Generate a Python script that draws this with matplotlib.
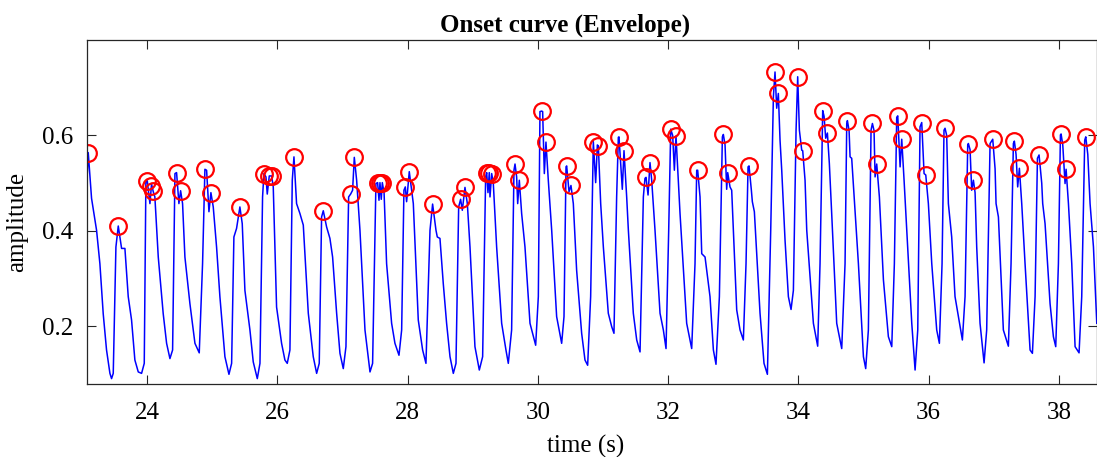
import numpy as np
import matplotlib
matplotlib.use('Agg')
import matplotlib.pyplot as plt

# envelope vertices (time in s, amplitude)
env_time = [23.073, 23.099, 23.150, 23.186, 23.227, 23.278, 23.329, 23.380, 23.432, 23.457,
            23.483, 23.524, 23.560, 23.611, 23.662, 23.713, 23.764, 23.815, 23.867, 23.918,
            23.959, 23.984, 24.005, 24.046, 24.071, 24.097, 24.122, 24.174, 24.250, 24.302,
            24.353, 24.394, 24.430, 24.455, 24.491, 24.517, 24.547, 24.583, 24.660, 24.737,
            24.803, 24.854, 24.890, 24.916, 24.952, 24.982, 25.018, 25.069, 25.120, 25.197,
            25.259, 25.300, 25.335, 25.376, 25.427, 25.463, 25.504, 25.581, 25.632, 25.694,
            25.735, 25.775, 25.796, 25.827, 25.847, 25.878, 25.914, 25.939, 25.990, 26.067,
            26.118, 26.154, 26.195, 26.231, 26.257, 26.297, 26.349, 26.400, 26.477, 26.553,
            26.605, 26.645, 26.681, 26.707, 26.758, 26.809, 26.850, 26.912, 26.963, 27.014,
            27.055, 27.096, 27.127, 27.157, 27.183, 27.219, 27.270, 27.347, 27.424, 27.464,
            27.515, 27.541, 27.562, 27.577, 27.597, 27.613, 27.640, 27.679, 27.756, 27.807,
            27.869, 27.910, 27.945, 27.966, 27.986, 28.027, 28.063, 28.089, 28.165, 28.232,
            28.283, 28.345, 28.385, 28.437, 28.457, 28.498, 28.549, 28.600, 28.652, 28.703,
            28.744, 28.785, 28.815, 28.841, 28.882, 28.918, 28.959, 29.035, 29.102, 29.153,
            29.199, 29.215, 29.235, 29.255, 29.266, 29.292, 29.317, 29.368, 29.445, 29.511,
            29.547, 29.598, 29.634, 29.650, 29.675, 29.691, 29.716, 29.752, 29.803, 29.880,
            29.967, 30.008, 30.033, 30.059, 30.074, 30.100, 30.125, 30.161, 30.213, 30.289,
            30.366, 30.402, 30.433, 30.443, 30.479, 30.509, 30.545, 30.596, 30.673, 30.724,
            30.765, 30.811, 30.852, 30.888, 30.914, 30.929, 30.965, 31.006, 31.082, 31.134,
            31.169, 31.210, 31.236, 31.246, 31.297, 31.323, 31.364, 31.390, 31.466, 31.518,
            31.569, 31.620, 31.645, 31.661, 31.692, 31.722, 31.748, 31.799, 31.876, 31.927,
            31.968, 32.009, 32.040, 32.070, 32.096, 32.121, 32.157, 32.183, 32.285, 32.362,
            32.413, 32.439, 32.454, 32.490, 32.516, 32.567, 32.643, 32.695, 32.735, 32.787,
            32.833, 32.848, 32.874, 32.899, 32.915, 32.950, 32.976, 33.053, 33.104, 33.155,
            33.196, 33.227, 33.242, 33.278, 33.293, 33.324, 33.411, 33.472, 33.524, 33.575,
            33.616, 33.641, 33.667, 33.692, 33.718, 33.744, 33.795, 33.846, 33.887, 33.923,
            33.964, 33.989, 34.015, 34.051, 34.066, 34.102, 34.128, 34.230, 34.296, 34.332,
            34.373, 34.394, 34.419, 34.445, 34.475, 34.511, 34.588, 34.665, 34.716, 34.742,
            34.752, 34.778, 34.793, 34.818, 34.921, 34.998, 35.033, 35.074, 35.115, 35.136,
            35.161, 35.177, 35.202, 35.243, 35.305, 35.381, 35.433, 35.473, 35.509, 35.525,
            35.561, 35.586, 35.622, 35.663, 35.740, 35.791, 35.832, 35.867, 35.893, 35.929,
            35.955, 35.995, 36.047, 36.123, 36.164, 36.205, 36.235, 36.251, 36.276, 36.302,
            36.353, 36.404, 36.456, 36.517, 36.558, 36.599, 36.609, 36.635, 36.660, 36.686,
            36.712, 36.737, 36.788, 36.850, 36.890, 36.942, 36.983, 37.019, 37.034, 37.070,
            37.146, 37.223, 37.264, 37.300, 37.315, 37.341, 37.366, 37.392, 37.428, 37.479,
            37.556, 37.592, 37.633, 37.669, 37.694, 37.735, 37.750, 37.786, 37.863, 37.914,
            37.950, 37.991, 38.022, 38.032, 38.058, 38.093, 38.109, 38.145, 38.196, 38.247,
            38.308, 38.349, 38.395, 38.411, 38.442, 38.477, 38.529, 38.580]
env_amp = [0.485, 0.564, 0.468, 0.436, 0.401, 0.331, 0.226, 0.150, 0.101, 0.090,
           0.101, 0.366, 0.410, 0.363, 0.363, 0.262, 0.213, 0.129, 0.104, 0.101,
           0.122, 0.503, 0.505, 0.457, 0.498, 0.482, 0.471, 0.345, 0.226, 0.164,
           0.132, 0.150, 0.520, 0.522, 0.457, 0.484, 0.457, 0.345, 0.247, 0.164,
           0.144, 0.331, 0.529, 0.527, 0.440, 0.480, 0.450, 0.366, 0.262, 0.136,
           0.099, 0.122, 0.387, 0.405, 0.450, 0.415, 0.275, 0.192, 0.125, 0.090,
           0.122, 0.471, 0.520, 0.513, 0.477, 0.515, 0.515, 0.492, 0.240, 0.164,
           0.129, 0.122, 0.150, 0.506, 0.555, 0.457, 0.436, 0.412, 0.227, 0.136,
           0.101, 0.122, 0.429, 0.442, 0.408, 0.384, 0.345, 0.227, 0.143, 0.111,
           0.157, 0.471, 0.477, 0.485, 0.554, 0.506, 0.401, 0.192, 0.104, 0.122,
           0.499, 0.501, 0.464, 0.501, 0.466, 0.501, 0.480, 0.331, 0.206, 0.164,
           0.139, 0.192, 0.485, 0.492, 0.461, 0.524, 0.485, 0.457, 0.213, 0.150,
           0.122, 0.401, 0.456, 0.401, 0.387, 0.384, 0.289, 0.206, 0.136, 0.101,
           0.122, 0.450, 0.466, 0.443, 0.491, 0.457, 0.366, 0.157, 0.108, 0.136,
           0.513, 0.522, 0.480, 0.522, 0.471, 0.520, 0.499, 0.366, 0.206, 0.150,
           0.122, 0.192, 0.527, 0.540, 0.513, 0.457, 0.506, 0.436, 0.366, 0.206,
           0.160, 0.262, 0.650, 0.651, 0.650, 0.520, 0.586, 0.506, 0.401, 0.220,
           0.164, 0.220, 0.534, 0.536, 0.482, 0.495, 0.457, 0.317, 0.185, 0.129,
           0.118, 0.262, 0.587, 0.501, 0.580, 0.578, 0.457, 0.366, 0.227, 0.199,
           0.185, 0.471, 0.596, 0.597, 0.487, 0.568, 0.471, 0.401, 0.227, 0.171,
           0.146, 0.471, 0.510, 0.512, 0.475, 0.543, 0.506, 0.401, 0.227, 0.192,
           0.153, 0.401, 0.613, 0.600, 0.527, 0.599, 0.506, 0.436, 0.206, 0.153,
           0.331, 0.527, 0.527, 0.471, 0.352, 0.345, 0.262, 0.150, 0.120, 0.262,
           0.597, 0.602, 0.580, 0.487, 0.522, 0.492, 0.485, 0.234, 0.192, 0.171,
           0.331, 0.534, 0.536, 0.485, 0.461, 0.440, 0.227, 0.122, 0.099, 0.401,
           0.681, 0.733, 0.657, 0.688, 0.590, 0.527, 0.380, 0.262, 0.235, 0.275,
           0.611, 0.723, 0.611, 0.569, 0.568, 0.506, 0.401, 0.206, 0.158, 0.331,
           0.652, 0.640, 0.594, 0.605, 0.541, 0.436, 0.206, 0.153, 0.331, 0.625,
           0.631, 0.610, 0.555, 0.552, 0.331, 0.136, 0.111, 0.192, 0.611, 0.625,
           0.610, 0.513, 0.540, 0.471, 0.297, 0.178, 0.157, 0.331, 0.638, 0.641,
           0.534, 0.592, 0.506, 0.401, 0.206, 0.108, 0.192, 0.618, 0.627, 0.520,
           0.517, 0.457, 0.331, 0.192, 0.164, 0.331, 0.611, 0.615, 0.600, 0.457,
           0.387, 0.262, 0.220, 0.171, 0.262, 0.580, 0.583, 0.570, 0.485, 0.506,
           0.480, 0.366, 0.206, 0.123, 0.192, 0.583, 0.592, 0.530, 0.457, 0.429,
           0.192, 0.158, 0.331, 0.583, 0.588, 0.560, 0.492, 0.531, 0.457, 0.331,
           0.150, 0.143, 0.262, 0.552, 0.559, 0.500, 0.457, 0.415, 0.247, 0.178,
           0.157, 0.331, 0.601, 0.603, 0.580, 0.499, 0.529, 0.457, 0.331, 0.157,
           0.144, 0.262, 0.590, 0.597, 0.560, 0.457, 0.366, 0.206]

# detected onset peaks
peak_time = [23.099, 23.560, 23.994, 24.056, 24.097, 24.455, 24.517, 24.890, 24.982, 25.427,
             25.796, 25.878, 25.914, 26.257, 26.707, 27.127, 27.183, 27.541, 27.577, 27.613,
             27.966, 28.027, 28.385, 28.815, 28.882, 29.215, 29.255, 29.292, 29.650, 29.716,
             30.059, 30.125, 30.443, 30.509, 30.852, 30.929, 31.246, 31.323, 31.661, 31.722,
             32.040, 32.121, 32.454, 32.848, 32.915, 33.242, 33.641, 33.692, 33.989, 34.066,
             34.373, 34.445, 34.752, 35.136, 35.202, 35.525, 35.586, 35.893, 35.955, 36.251,
             36.609, 36.686, 36.983, 37.315, 37.392, 37.694, 38.032, 38.109, 38.411]
peak_amp = [0.564, 0.410, 0.504, 0.494, 0.483, 0.522, 0.484, 0.529, 0.480, 0.450,
            0.520, 0.515, 0.515, 0.555, 0.442, 0.477, 0.554, 0.501, 0.501, 0.501,
            0.492, 0.524, 0.456, 0.466, 0.491, 0.522, 0.522, 0.520, 0.540, 0.506,
            0.651, 0.586, 0.536, 0.495, 0.587, 0.578, 0.597, 0.568, 0.512, 0.543,
            0.613, 0.599, 0.527, 0.602, 0.522, 0.536, 0.733, 0.688, 0.723, 0.568,
            0.652, 0.605, 0.631, 0.625, 0.540, 0.641, 0.592, 0.627, 0.517, 0.615,
            0.583, 0.506, 0.592, 0.588, 0.531, 0.559, 0.603, 0.529, 0.597]

x_ticks = [24, 26, 28, 30, 32, 34, 36, 38]
y_ticks = [0.2, 0.4, 0.6]

plt.rcParams['font.family'] = ['Liberation Serif', 'DejaVu Serif']
plt.rcParams['font.size'] = 18

fig = plt.figure(figsize=(10.97, 4.57), dpi=100)
ax = fig.add_axes([0.0793, 0.159, 0.9205, 0.7534])

ax.plot(env_time, env_amp, color='#0000ff', linewidth=1.1)
ax.plot(peak_time, peak_amp, 'o', color='red', markersize=12,
        markerfacecolor='none', markeredgewidth=1.6)

ax.set_xlim(23.08, 38.58)
ax.set_ylim(0.078, 0.80)
ax.set_xticks(x_ticks)
ax.set_yticks(y_ticks)
ax.set_yticklabels(['0.2', '0.4', '0.6'])
ax.tick_params(direction='in', length=6.5, width=0.8, top=True, right=True,
               colors='#262626', labelcolor='black', labelsize=18)
ax.tick_params(axis='x', pad=13)
ax.tick_params(axis='y', pad=10)
for s in ax.spines.values():
    s.set_color('#262626')
    s.set_linewidth(0.9)

ax.set_title('Onset curve (Envelope)', fontweight='bold', fontsize=18, x=0.473, pad=6)
ax.set_xlabel('time (s)', fontsize=18)
ax.set_ylabel('amplitude', fontsize=18)
ax.xaxis.set_label_coords(0.494, -0.147)
ax.yaxis.set_label_coords(-0.058, 0.471)

fig.savefig('out.png', dpi=100)
